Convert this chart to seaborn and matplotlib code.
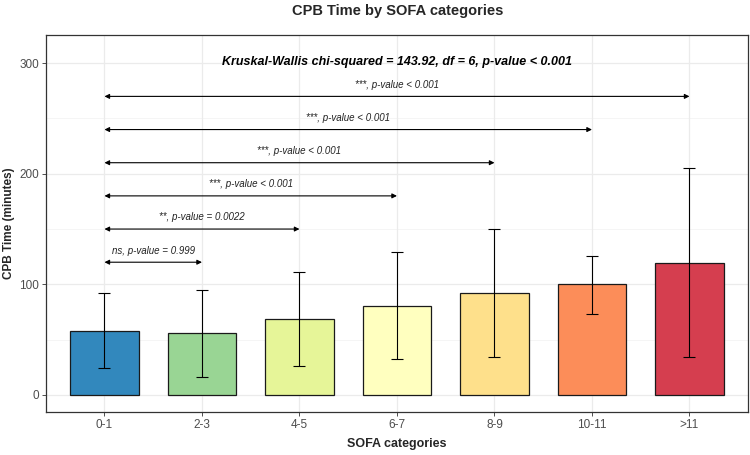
import matplotlib
matplotlib.use("Agg")
import matplotlib.pyplot as plt
import seaborn as sns
import pandas as pd

categories = ["0-1", "2-3", "4-5", "6-7", "8-9", "10-11", ">11"]
mean_time = [58, 56, 69, 80, 92, 100, 119]
err_low = [24, 16, 26, 32, 34, 73, 34]
err_high = [92, 95, 111, 129, 150, 126, 205]
colors = ["#3288BD", "#99D594", "#E6F598", "#FFFFBF", "#FEE08B", "#FC8D59", "#D53E4F"]

cmp_start = ["0-1", "0-1", "0-1", "0-1", "0-1", "0-1"]
cmp_end = ["2-3", "4-5", "6-7", "8-9", "10-11", ">11"]
cmp_y = [120, 150, 180, 210, 240, 270]
cmp_label = ["ns, p-value = 0.999", "**, p-value = 0.0022", "***, p-value < 0.001",
             "***, p-value < 0.001", "***, p-value < 0.001", "***, p-value < 0.001"]

kw_text = "Kruskal-Wallis chi-squared = 143.92, df = 6, p-value < 0.001"

sns.set_theme(style="white")
plt.rcParams["font.family"] = ["Liberation Sans", "DejaVu Sans"]

df = pd.DataFrame({"cat": categories, "mean": mean_time})

fig = plt.figure(figsize=(7.5, 4.55), dpi=100)
ax = fig.add_axes([0.0613, 0.0945, 0.936, 0.8285])

# grid
for v in [50, 150, 250]:
    ax.axhline(v, color="#F2F2F2", lw=0.5, zorder=0)
for v in [0, 100, 200, 300]:
    ax.axhline(v, color="#EBEBEB", lw=0.9, zorder=0)
for i in range(len(categories)):
    ax.axvline(i, color="#EBEBEB", lw=0.9, zorder=0)

sns.barplot(data=df, x="cat", y="mean", hue="cat", palette=colors, order=categories,
            hue_order=categories, width=0.7, edgecolor="#1a1a1a", linewidth=0.9,
            saturation=1, errorbar=None, legend=False, ax=ax, zorder=2)

xpos = list(range(len(categories)))
yerr = [[m - l for m, l in zip(mean_time, err_low)],
        [h - m for m, h in zip(mean_time, err_high)]]
ax.errorbar(xpos, mean_time, yerr=yerr, fmt="none", ecolor="black", elinewidth=0.8,
            capsize=4.5, capthick=0.8, zorder=3)

for s, e, y, lab in zip(cmp_start, cmp_end, cmp_y, cmp_label):
    x0 = categories.index(s)
    x1 = categories.index(e)
    ax.annotate("", xy=(x1, y), xytext=(x0, y),
                arrowprops=dict(arrowstyle="<|-|>", color="black", lw=0.8,
                                mutation_scale=7, shrinkA=0, shrinkB=0), zorder=4)
    ax.text((x0 + x1) / 2, y + 6, lab, ha="center", va="bottom", fontsize=7,
            style="italic", color="#222222")

ax.text(3, 301, kw_text, ha="center", va="center", fontsize=9, fontweight="bold",
        style="italic", color="black")

ax.set_xlim(-0.6, 6.6)
ax.set_ylim(-15.5, 325.5)
ax.set_yticks([0, 100, 200, 300])
ax.set_xlabel("SOFA categories", fontsize=9, fontweight="bold", labelpad=5)
ax.set_ylabel("CPB Time (minutes)", fontsize=8.5, fontweight="bold", labelpad=3)
ax.tick_params(axis="both", labelsize=8.5, labelcolor="#4D4D4D", length=3,
               color="#333333", width=0.6, direction="out", bottom=True, left=True,
               pad=2)
for sp in ax.spines.values():
    sp.set_color("#333333")
    sp.set_linewidth(0.9)
    sp.set_visible(True)

fig.text(0.53, 0.975, "CPB Time by SOFA categories", ha="center", va="center",
         fontsize=10.5, fontweight="bold")

fig.savefig("out.png", dpi=100)
